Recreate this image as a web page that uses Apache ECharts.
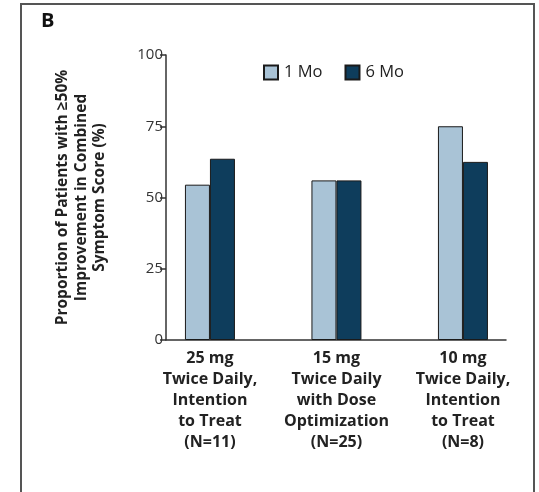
<!DOCTYPE html>
<html>
<head>
<meta charset="utf-8">
<script src="https://cdn.jsdelivr.net/npm/echarts@6/dist/echarts.min.js"></script>
<style>
  html, body { margin: 0; padding: 0; background: #fff; }
  #chart { width: 539px; height: 492px; }
</style>
</head>
<body>
<div id="chart"></div>
<script>
// Data
const categories = [
    '25 mg\nTwice Daily,\nIntention\nto Treat\n(N=11)',
    '15 mg\nTwice Daily\nwith Dose\nOptimization\n(N=25)',
    '10 mg\nTwice Daily,\nIntention\nto Treat\n(N=8)'
];
const month1 = [54.5, 56, 75];
const month6 = [63.6, 56, 62.5];
const yTicks = [0, 25, 50, 75, 100];

const FONT = '"Open Sans", "Noto Sans", sans-serif';
const LIGHT = '#a9c3d6';
const DARK = '#0e3d5c';

function initializeChart() {
    const el = document.getElementById('chart');
    const chart = echarts.init(el, null, { renderer: 'canvas' });

    const option = {
        backgroundColor: '#fff',
        animation: false,
        textStyle: { fontFamily: FONT },
        graphic: [
            {
                type: 'polyline',
                shape: { points: [[21, 492], [21, 4], [534, 4], [534, 492]] },
                style: { stroke: '#555', lineWidth: 2, fill: null }
            },
            {
                type: 'text',
                left: 41,
                top: 11,
                style: { text: 'B', font: 'bold 20px ' + FONT, fill: '#111' }
            }
        ],
        legend: {
            top: 59,
            left: 258,
            itemWidth: 14,
            itemHeight: 14,
            itemGap: 22,
            icon: 'rect',
            textStyle: { fontSize: 16.5, color: '#222', fontFamily: FONT, padding: [0, 0, 0, 1] },
            data: ['1 Mo', '6 Mo']
        },
        grid: [
            // axis frame
            { left: 166, top: 55, width: 340, height: 285 },
            // bars (centres sit off the axis band layout)
            { left: 146.7, top: 55, width: 379.5, height: 285 }
        ],
        xAxis: [
            {
                type: 'category',
                gridIndex: 0,
                data: [''],
                axisLine: { lineStyle: { color: '#333', width: 1.5 } },
                axisTick: { show: false },
                axisLabel: { show: false }
            },
            {
                type: 'category',
                gridIndex: 1,
                data: categories,
                axisLine: { show: false },
                axisTick: { show: false },
                axisLabel: {
                    margin: 8,
                    interval: 0,
                    fontSize: 16,
                    fontWeight: 'bold',
                    lineHeight: 21,
                    color: '#222',
                    fontFamily: FONT
                }
            }
        ],
        yAxis: [
            {
                type: 'value',
                gridIndex: 0,
                min: 0,
                max: 100,
                interval: 25,
                name: 'Proportion of Patients with \u226550%\nImprovement in Combined\nSymptom Score (%)',
                nameLocation: 'middle',
                nameRotate: 90,
                nameGap: 57,
                nameTextStyle: {
                    fontSize: 15.5,
                    fontWeight: 'bold',
                    lineHeight: 18.5,
                    color: '#222',
                    fontFamily: FONT
                },
                axisLine: { show: true, lineStyle: { color: '#333', width: 1.5 } },
                axisTick: { show: true, length: 6, lineStyle: { color: '#333', width: 1.5 } },
                axisLabel: {
                    margin: 3,
                    fontSize: 15,
                    color: '#333',
                    fontFamily: FONT,
                    formatter: v => (yTicks.indexOf(v) >= 0 ? String(v) : '')
                },
                splitLine: { show: false }
            },
            {
                type: 'value',
                gridIndex: 1,
                min: 0,
                max: 100,
                show: false,
                splitLine: { show: false }
            }
        ],
        series: [
            {
                name: '1 Mo',
                type: 'bar',
                xAxisIndex: 1,
                yAxisIndex: 1,
                data: month1,
                barWidth: 25,
                barGap: '0%',
                itemStyle: { color: LIGHT, borderColor: '#1a1a1a', borderWidth: 1 }
            },
            {
                name: '6 Mo',
                type: 'bar',
                xAxisIndex: 1,
                yAxisIndex: 1,
                data: month6,
                barWidth: 25,
                barGap: '0%',
                itemStyle: { color: DARK, borderColor: '#1a1a1a', borderWidth: 1 }
            }
        ]
    };

    chart.setOption(option);
}

initializeChart();
</script>
</body>
</html>
